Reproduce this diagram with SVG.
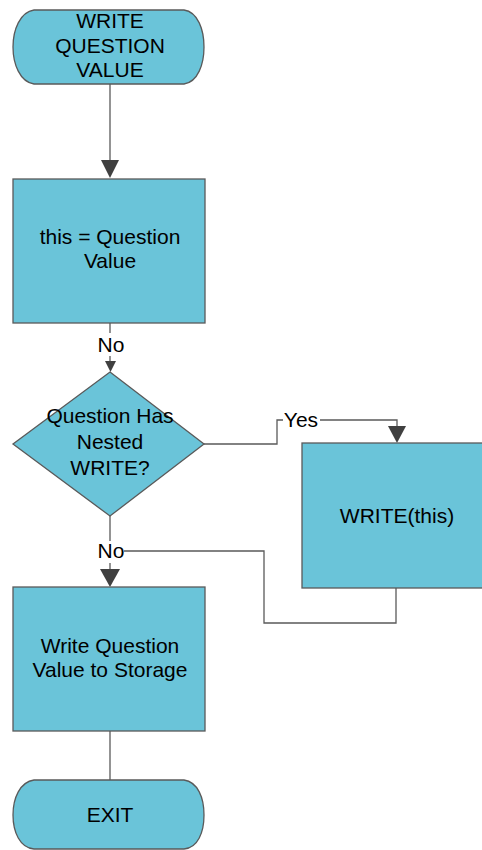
<svg xmlns="http://www.w3.org/2000/svg" width="482" height="850" viewBox="0 0 482 850">
<style>
.shape{fill:#6AC4D9;stroke:#5a5a5a;stroke-width:1.3}
.t{font-family:"Liberation Sans",Arial,sans-serif;font-size:21px;fill:#000;text-anchor:middle}
.c{fill:none;stroke:#5a5a5a;stroke-width:1.3}
.ah{fill:#404040}
</style>
<rect width="482" height="850" fill="#fff"/>
<g id="connectors">
<line class="c" x1="110" y1="84" x2="110" y2="162"/>
<polygon class="ah" points="101,160 119,160 110,178"/>
<line class="c" x1="110" y1="323" x2="110" y2="362"/>
<rect x="96" y="333" width="30" height="23" fill="#fff"/>
<text class="t" x="111" y="352">No</text>
<polygon class="ah" points="105,361 116,361 110.5,372"/>
<polyline class="c" points="204,444 277,444 277,420 397,420 397,428"/>
<rect x="283" y="408" width="37" height="24" fill="#fff"/>
<text class="t" x="301" y="427">Yes</text>
<polygon class="ah" points="388,426 406,426 397,443"/>
<line class="c" x1="110" y1="516" x2="110" y2="571"/>
<polyline class="c" points="396,588 396,623 264,623 264,551 110,551"/>
<rect x="96" y="541" width="28" height="22" fill="#fff"/>
<text class="t" x="111" y="558">No</text>
<polygon class="ah" points="100,569 120,569 110,587"/>
<line class="c" x1="110" y1="731" x2="110" y2="780"/>
</g>
<g id="start">
<path class="shape" d="M34,10 H184 C198,12 204,30 204,47 C204,64 198,82 184,84 H34 C20,82 13,64 13,47 C13,30 20,12 34,10 Z"/>
<text class="t" x="110" y="28">WRITE</text>
<text class="t" x="110" y="53">QUESTION</text>
<text class="t" x="110" y="77">VALUE</text>
</g>
<g id="assign">
<rect class="shape" x="13" y="179" width="192" height="144"/>
<text class="t" x="110" y="244">this = Question</text>
<text class="t" x="110" y="268">Value</text>
</g>
<g id="decision">
<polygon class="shape" points="110,372 204,444 110,516 13,444"/>
<text class="t" x="110" y="423">Question Has</text>
<text class="t" x="110" y="449">Nested</text>
<text class="t" x="110" y="475">WRITE?</text>
</g>
<g id="write-this">
<rect class="shape" x="302" y="443" width="190" height="145"/>
<text class="t" x="397" y="523">WRITE(this)</text>
</g>
<g id="store">
<rect class="shape" x="13" y="587" width="192" height="144"/>
<text class="t" x="110" y="653">Write Question</text>
<text class="t" x="110" y="677">Value to Storage</text>
</g>
<g id="exit">
<path class="shape" d="M34,780 H184 C198,782 204,798 204,815 C204,832 198,848 184,849 H34 C20,848 13,832 13,815 C13,798 20,782 34,780 Z"/>
<text class="t" x="110" y="822">EXIT</text>
</g>
</svg>
